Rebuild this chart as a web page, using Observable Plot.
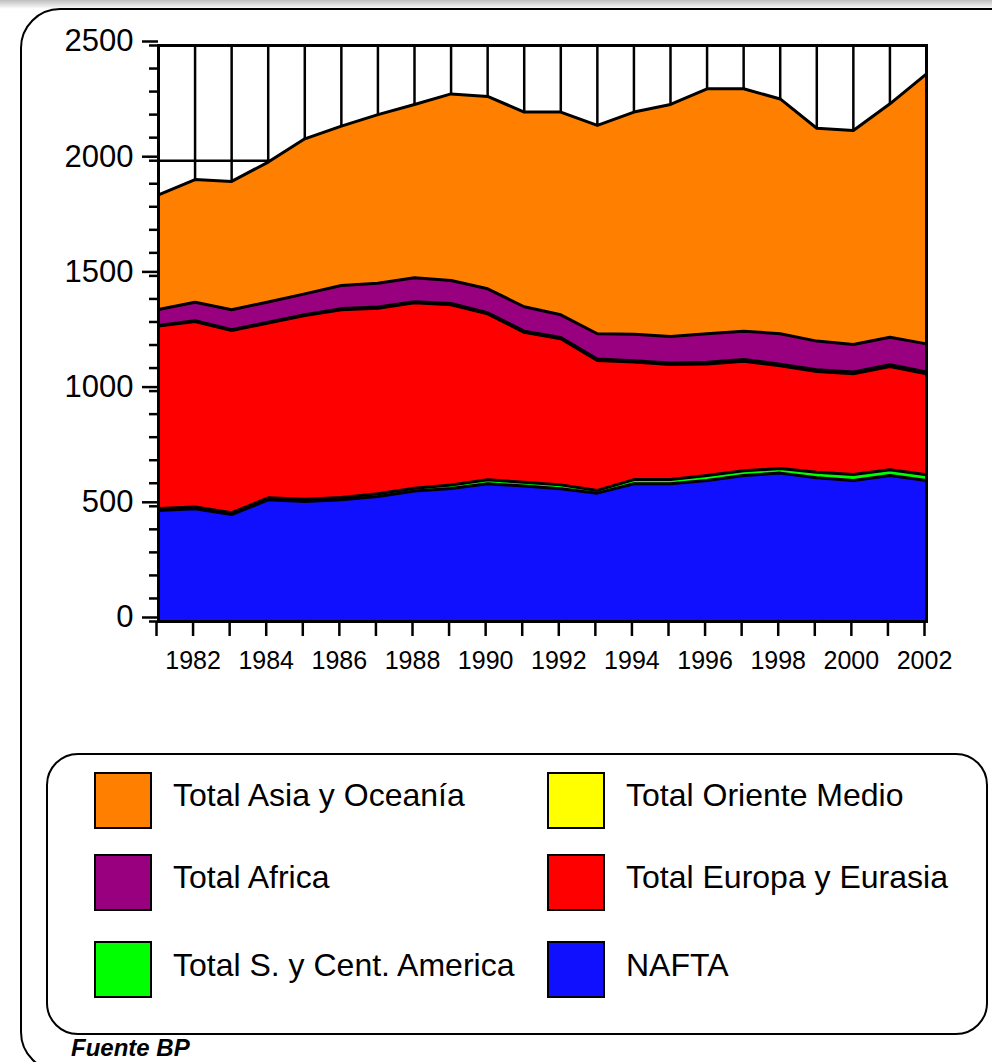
<!DOCTYPE html>
<html><head><meta charset="utf-8">
<script src="https://cdn.jsdelivr.net/npm/d3@7"></script>
<script src="https://cdn.jsdelivr.net/npm/@observablehq/plot@0.6"></script>
<style>
body{margin:0;background:#fff;font-family:"Liberation Sans",Arial,sans-serif;}
#page{position:relative;width:992px;height:1062px;overflow:hidden;background:#fff;}
#topbar{position:absolute;left:0;top:0;width:992px;height:9px;background:linear-gradient(#bdbdbd,#fff);}
#outer{position:absolute;left:20px;top:8px;width:1040px;height:1064px;border:2px solid #000;border-radius:40px;box-sizing:border-box;}
#chart{position:absolute;left:0;top:0;}
#legend{position:absolute;left:46px;top:753px;width:942px;height:282px;border:2px solid #000;border-radius:32px;box-sizing:border-box;}
.sw{position:absolute;width:58px;height:57px;border:2px solid #000;box-sizing:border-box;}
.lab{position:absolute;font-size:32px;line-height:32px;white-space:nowrap;color:#000;}
#source{position:absolute;left:71px;top:1036px;font-weight:bold;font-style:italic;font-size:24px;line-height:24px;}
</style>
</head><body>
<div id="page">
  <div id="topbar"></div>
  <div id="outer"></div>
  <div id="chart"></div>
  <div id="legendbox"></div>
  <div id="source">Fuente BP</div>
</div>
<script>
const years = [1981,1982,1983,1984,1985,1986,1987,1988,1989,1990,1991,1992,1993,1994,1995,1996,1997,1998,1999,2000,2001,2002];
const nafta        = [482,489,464,528,521,528,543,566,577,598,588,576,557,598,598,612,634,644,624,612,634,612];
const sCentAmerica = [8,8,8,9,10,10,11,12,15,17,16,17,12,18,18,22,20,20,24,26,25,25];
const europa       = [792,805,791,758,797,815,806,805,783,720,651,634,564,510,499,484,476,446,437,437,448,438];
const orienteMedio = [3,3,3,4,4,5,5,5,5,5,5,6,6,6,7,7,7,7,8,8,8,8];
const africa       = [69,81,87,88,90,100,103,104,100,104,106,98,110,115,115,124,123,132,124,119,119,122];
const asia         = [498,532,557,607,673,692,732,752,810,835,845,880,904,964,1007,1063,1052,1019,924,929,1013,1172];

const stackNames  = ["NAFTA","Total S. y Cent. America","Total Europa y Eurasia","Total Oriente Medio","Total Africa","Total Asia y Oceanía"];
const stackValues = [nafta, sCentAmerica, europa, orienteMedio, africa, asia];
const stackColors = ["#1010ff","#00ff00","#ff0000","#ffff00","#990080","#ff8000"];

const yMajor = [0,500,1000,1500,2000,2500];
const yMinor = d3.range(0,2501,100);

// legend layout order (left column, right column)
const legendLeft  = ["Total Asia y Oceanía","Total Africa","Total S. y Cent. America"];
const legendRight = ["Total Oriente Medio","Total Europa y Eurasia","NAFTA"];

const data = [];
stackNames.forEach((s,i)=>years.forEach((yr,j)=>data.push({year:yr, series:s, value:stackValues[i][j]})));

const chart = Plot.plot({
  width: 992, height: 700,
  marginLeft: 158, marginRight: 66, marginTop: 45, marginBottom: 79,
  style: {background:"transparent", fontFamily:"Liberation Sans, Arial, sans-serif", fontSize:"25px", color:"#000", overflow:"visible"},
  x: {domain:[1981,2002], label:null},
  y: {domain:[0,2500], label:null},
  color: {domain: stackNames, range: stackColors},
  marks: [
    Plot.ruleX(years, {x: d=>d, stroke:"#000", strokeWidth:2.5}),
    Plot.ruleY(yMajor, {y: d=>d, stroke:"#000", strokeWidth:2.5}),
    Plot.areaY(data, {x:"year", y:"value", z:"series", fill:"series", order: stackNames}),
    Plot.lineY(data, Plot.stackY2({x:"year", y:"value", z:"series", order: stackNames, stroke:"#000", strokeWidth:3})),
    Plot.axisY(yMinor, {tickSize:9, tickFormat: ()=>"", strokeWidth:2.5, label:null}),
    Plot.axisY(yMajor, {tickSize:16, tickPadding:9, fontSize:31, strokeWidth:2.5, tickFormat: d=>String(d), dy:-4, label:null}),
    Plot.axisX(years, {tickSize:15, tickPadding:15, fontSize:25, strokeWidth:2.5, tickFormat: d=> d%2===0 ? String(d) : "", dx:-2, label:null}),
    Plot.frame({stroke:"#000", strokeWidth:3})
  ]
});
document.getElementById("chart").appendChild(chart);

// legend
const colorOf = Object.fromEntries(stackNames.map((n,i)=>[n, stackColors[i]]));
const lb = document.getElementById("legendbox");
const box = document.createElement("div"); box.id = "legend"; lb.appendChild(box);
const rowsTop = [772, 854, 941];
const labTop = [779, 861, 949];
function addItem(name, sx, tx, r){
  const sw = document.createElement("div"); sw.className = "sw";
  sw.style.left = sx + "px"; sw.style.top = rowsTop[r] + "px"; sw.style.background = colorOf[name];
  document.getElementById("page").appendChild(sw);
  const t = document.createElement("div"); t.className = "lab";
  t.style.left = tx + "px"; t.style.top = labTop[r] + "px"; t.textContent = name;
  document.getElementById("page").appendChild(t);
}
legendLeft.forEach((n,r)=>addItem(n, 94, 173, r));
legendRight.forEach((n,r)=>addItem(n, 547, 626, r));
</script>
</body></html>
